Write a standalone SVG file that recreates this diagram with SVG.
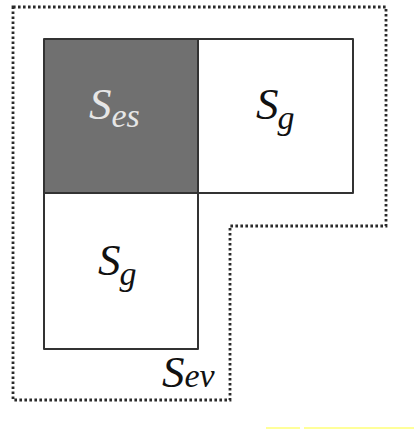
<svg xmlns="http://www.w3.org/2000/svg" width="414" height="430" viewBox="0 0 414 430">
<style>
.box{stroke:#333;stroke-width:2;stroke-linejoin:round}
.lbl{font-family:"Liberation Serif","Times New Roman",serif;font-style:italic;fill:#111}
.big{font-size:45px}
.sub{font-size:34px}
.dot{fill:none;stroke:#2a2a2a;stroke-width:2.8;stroke-dasharray:2.6 2.4}
</style>
<rect width="414" height="430" fill="#fff"/>
<g id="region-ev">
<path class="dot" d="M13,7 H386 V226 H230 V400 H13 Z"/>
<text class="lbl" x="162" y="387"><tspan class="big">S</tspan><tspan class="sub">ev</tspan></text>
</g>
<g id="node-es">
<rect class="box" x="44" y="39" width="154" height="154" fill="#707070"/>
<text class="lbl" x="89" y="119" style="fill:#e6e6e6"><tspan class="big">S</tspan><tspan class="sub" dy="8">es</tspan></text>
</g>
<g id="node-g-right">
<rect class="box" x="198" y="39" width="155" height="154" fill="#fff"/>
<text class="lbl" x="256" y="119"><tspan class="big">S</tspan><tspan class="sub" dx="-1" dy="10">g</tspan></text>
</g>
<g id="node-g-bottom">
<rect class="box" x="44" y="193" width="154" height="156" fill="#fff"/>
<text class="lbl" x="98" y="275"><tspan class="big">S</tspan><tspan class="sub" dx="-1" dy="10">g</tspan></text>
</g>
<g id="connectors"></g>
<rect x="266" y="427" width="34" height="2" fill="#ffff99"/>
<rect x="304" y="427" width="110" height="2" fill="#ffff99"/>
</svg>
